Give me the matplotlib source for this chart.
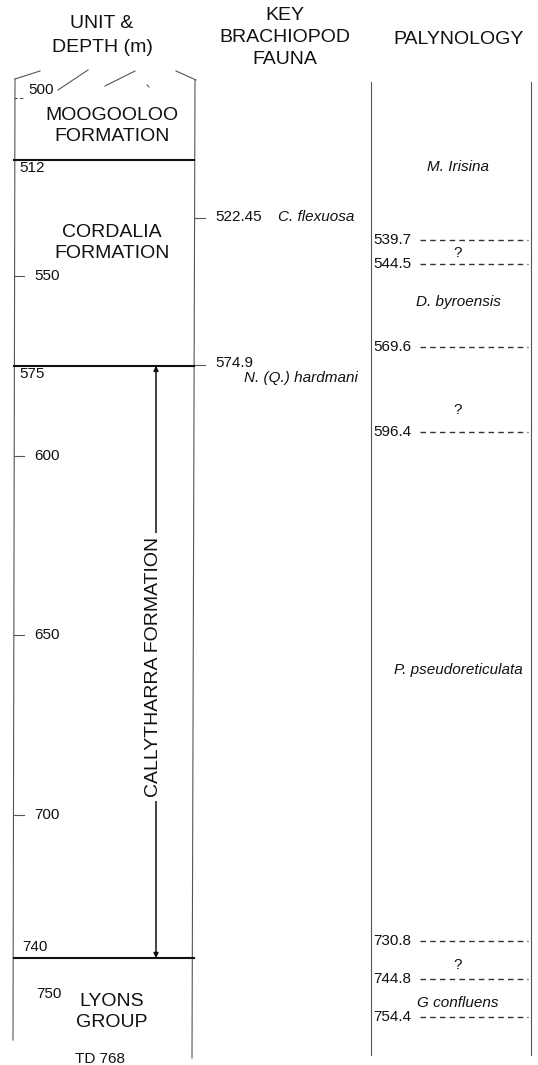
import numpy as np
import matplotlib
matplotlib.use("Agg")
import matplotlib.pyplot as plt
import matplotlib.transforms as mtransforms

plt.rcParams['font.family'] = ['Liberation Sans', 'DejaVu Sans']

# ---------------- data ----------------
depth_ticks = [500, 550, 600, 650, 700]
boundary_depths = [512, 575, 740]
boundary_labels = ['512', '575', '740']
extra_depth_label = 750
formation_names = ['MOOGOOLOO\nFORMATION', 'CORDALIA\nFORMATION', 'LYONS\nGROUP']
formation_depths = [505.4, 534.3, 755.0]
callytharra_name = 'CALLYTHARRA FORMATION'
callytharra_top, callytharra_base = 575, 740
total_depth = 768

fauna_depths = [522.45, 574.9]
fauna_labels = ['522.45', '574.9']
fauna_names = ['C. flexuosa', 'N. (Q.) hardmani']

paly_boundaries = [539.7, 544.5, 569.6, 596.4, 730.8, 744.8, 754.4]
paly_labels = ['539.7', '544.5', '569.6', '596.4', '730.8', '744.8', '754.4']
paly_zones = ['M. Irisina', '?', 'D. byroensis', '?', 'P. pseudoreticulata', '?', 'G confluens']
paly_zone_depths = [519.5, 542.3, 556.0, 589.5, 659.2, 739.6, 750.9]

W, H = 538, 1065

# ---------------- schematic (not-to-scale) depth scales ----------------
# unit / fauna columns
_D1 = np.array([400.0, 500.0, 512.0, 522.45, 550.0, 800.0])
_P1 = np.array([98 - 100 * 62 / 12, 98.0, 160.0, 218.0, 276.0, 276 + 250 * 3.59])
# palynology column (drawn on its own schematic spacing in the source figure)
_D2 = np.array([400.0, 539.7, 544.5, 569.6, 596.4, 730.8, 744.8, 754.4, 800.0])
_P2 = np.array([240 - 139.7 * 3.59, 240.0, 264.0, 347.0, 432.0, 941.0, 979.0, 1017.0,
                1017 + 45.6 * 3.59])


def make_scale(D, P):
    def fwd(d):
        return np.interp(np.asarray(d, float), D, P)

    def inv(p):
        return np.interp(np.asarray(p, float), P, D)
    return fwd, inv


fig = plt.figure(figsize=(W / 100, H / 100), dpi=100)


def make_axes(D, P, label):
    a = fig.add_axes([0, 0, 1, 1], label=label)
    fwd, inv = make_scale(D, P)
    a.set_yscale('function', functions=(fwd, inv))
    a.set_xlim(0, W)
    a.set_ylim(float(inv(H)), float(inv(0)))
    a.axis('off')
    a.patch.set_alpha(0)
    return a


ax = make_axes(_D1, _P1, 'units')
axp = make_axes(_D2, _P2, 'paly')

pix = mtransforms.Affine2D().scale(1 / W, -1 / H).translate(0, 1) + fig.transFigure

TXT = '#111111'
FRAME = '#555555'

# ---------------- headers ----------------
hdr = dict(fontsize=14, color=TXT, ha='center', va='center', transform=pix)
ax.text(102, 23, 'UNIT &', **hdr)
ax.text(102, 47, 'DEPTH (m)', **hdr)
ax.text(285, 16, 'KEY', **hdr)
ax.text(285, 38, 'BRACHIOPOD', **hdr)
ax.text(285, 60, 'FAUNA', **hdr)
ax.text(459, 40, 'PALYNOLOGY', **hdr)

# ---------------- frames ----------------
fr = dict(color=FRAME, lw=0.8, transform=pix)
ax.plot([15, 13], [79, 1040], **fr)           # left edge of unit column
ax.plot([195, 192], [80, 1058], **fr)         # right edge of unit column
ax.plot([371, 371], [82, 1055], **fr)         # fauna / palynology divider
ax.plot([531, 531], [82, 1055], **fr)         # right edge
# broken top of the column
for (x0, y0, x1, y1) in [(15, 79, 40, 71), (58, 90, 88, 70), (105, 86, 135, 71),
                         (147, 85, 149, 87), (176, 71, 196, 80)]:
    ax.plot([x0, x1], [y0, y1], **fr)

# ---------------- unit column ----------------
for d in depth_ticks:
    ls = (0, (3, 2)) if d == 500 else '-'
    ax.plot([14, 24], [d, d], color=FRAME, lw=0.8, ls=ls)
    if d == 500:
        ax.annotate(str(d), xy=(28, d), xytext=(0, 1), textcoords='offset points',
                    fontsize=11, color=TXT, ha='left', va='bottom')
    else:
        ax.text(34, d, str(d), fontsize=11, color=TXT, ha='left', va='center')

for d, lab in zip(boundary_depths, boundary_labels):
    ax.plot([14, 194], [d, d], color='#111111', lw=1.5)
    if d == 740:
        ax.annotate(lab, xy=(22, d), xytext=(0, 3), textcoords='offset points',
                    fontsize=11, color=TXT, ha='left', va='bottom')
    else:
        ax.annotate(lab, xy=(19, d), xytext=(0, -1), textcoords='offset points',
                    fontsize=11, color=TXT, ha='left', va='top')
ax.text(36, extra_depth_label, str(extra_depth_label), fontsize=11, color=TXT,
        ha='left', va='center')

for name, d in zip(formation_names, formation_depths):
    ax.text(112, d, name, fontsize=14, color=TXT, ha='center', va='center',
            linespacing=1.3)

ax.annotate('', xy=(156, callytharra_top), xytext=(156, callytharra_base),
            arrowprops=dict(arrowstyle='<|-|>', color='#111111', lw=1.1,
                            mutation_scale=7, shrinkA=0, shrinkB=0))
ax.text(153, (callytharra_top + callytharra_base) / 2 + 1.5, callytharra_name,
        rotation=90, fontsize=14, color=TXT, ha='center', va='center',
        bbox=dict(facecolor='white', edgecolor='none', pad=3))

ax.text(100, total_depth, f'TD {total_depth}', fontsize=11, color=TXT,
        ha='center', va='center')

# ---------------- fauna column ----------------
for i, (d, lab, name) in enumerate(zip(fauna_depths, fauna_labels, fauna_names)):
    ax.plot([195, 205], [d, d], color=FRAME, lw=0.8)
    ax.annotate(lab, xy=(215, d), xytext=(0, 1 if i == 0 else 2),
                textcoords='offset points', fontsize=11, color=TXT,
                ha='left', va='center')
    if i == 0:
        ax.annotate(name, xy=(278, d), xytext=(0, 1), textcoords='offset points',
                    fontsize=11, color=TXT, style='italic', ha='left', va='center')
    else:
        ax.annotate(name, xy=(358, d), xytext=(0, -9), textcoords='offset points',
                    fontsize=11, color=TXT, style='italic', ha='right', va='center')

# ---------------- palynology column ----------------
for d, lab in zip(paly_boundaries, paly_labels):
    axp.text(373, d, lab, fontsize=11, color=TXT, ha='left', va='center')
    axp.plot([420, 528], [d, d], color='#333333', lw=1.0, ls=(0, (4, 3)))

for name, d in zip(paly_zones, paly_zone_depths):
    axp.text(458, d, name, fontsize=11, color=TXT, ha='center', va='center',
             style='normal' if name == '?' else 'italic')

fig.savefig('out.png', dpi=100, facecolor='white')
